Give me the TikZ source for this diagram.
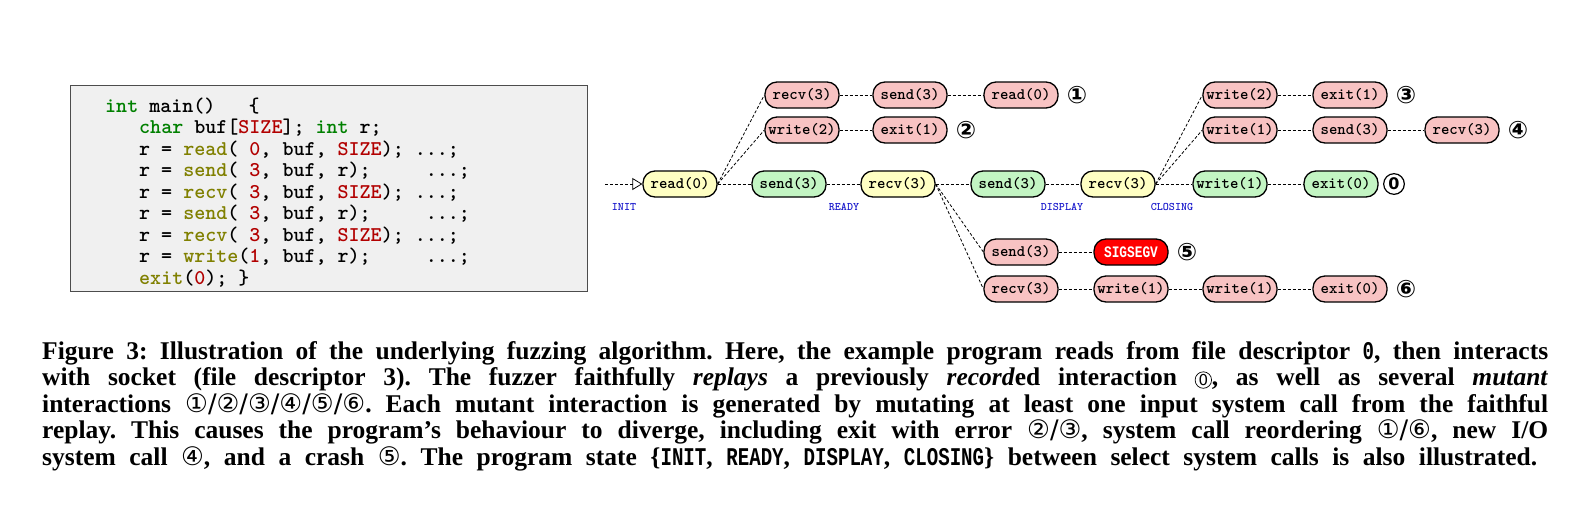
\documentclass[tikz,border=0pt]{standalone}
\usepackage{fontspec}
\setmainfont{Liberation Serif}
\newfontfamily\circfont{DejaVu Sans}
\newfontfamily\capmono{Liberation Mono}[FakeStretch=0.75]
\usetikzlibrary{arrows.meta}
\definecolor{kwg}{rgb}{0,0.5,0}
\definecolor{fno}{rgb}{0.5,0.5,0}
\definecolor{numr}{rgb}{0.7,0,0}
\definecolor{pinkf}{HTML}{F8C3C3}
\definecolor{greenf}{HTML}{C3F5C3}
\definecolor{yellf}{HTML}{FFFFC3}
\definecolor{stblue}{rgb}{0.1,0.1,0.8}
\newcommand{\cA}[1]{{\circfont\mdseries #1}}
\newcommand{\czero}{\tikz[baseline=(z.base)]\node[draw,circle,inner sep=0.6pt,line width=0.7pt,font=\circfont\mdseries\fontsize{15}{15}\selectfont](z){0};}
\newcommand{\kw}[1]{\textcolor{kwg}{#1}}
\newcommand{\fn}[1]{\textcolor{fno}{#1}}
\newcommand{\nm}[1]{\textcolor{numr}{#1}}
\begin{document}
\frenchspacing
\begin{tikzpicture}[x=1pt,y=-1pt,
  call/.style={draw=black,line width=1.3pt,rounded corners=12pt,minimum width=74pt,minimum height=26pt,inner sep=0pt,font=\fontsize{16}{16}\ttfamily\bfseries},
  pk/.style={call,fill=pinkf},
  gr/.style={call,fill=greenf},
  ye/.style={call,fill=yellf},
  rd/.style={call,fill=red,text=white},
  cn/.style={font=\fontsize{24}{24}\circfont\bfseries},
  st/.style={font=\fontsize{11.5}{11.5}\ttfamily\bfseries,text=stblue},
  ln/.style={densely dashed,line width=0.8pt},
  code/.style={anchor=base west,font=\fontsize{21}{21}\ttfamily\bfseries,inner sep=0pt},
  capline/.style={anchor=base west,font=\fontsize{25.5}{25.5}\bfseries,inner sep=0pt}]
\useasboundingbox (0,0) rectangle (1579,509);
% code box
\node[draw=black!70,fill=black!6,line width=1pt,minimum width=517pt,minimum height=206pt,anchor=north west,inner sep=0pt] (box) at (70,85) {};
\node[code] (c1) at (105,112) {\kw{int} main()\ \ \ \{};
\node[code] (c2) at (139,133.5) {\kw{char} buf[\nm{SIZE}]; \kw{int} r;};
\node[code] (c3) at (139,155) {r = \fn{read}( \nm{0}, buf, \nm{SIZE}); ...;};
\node[code] (c4) at (139,176.5) {r = \fn{send}( \nm{3}, buf, r);\ \ \ \ \ ...;};
\node[code] (c5) at (139,198) {r = \fn{recv}( \nm{3}, buf, \nm{SIZE}); ...;};
\node[code] (c6) at (139,219.5) {r = \fn{send}( \nm{3}, buf, r);\ \ \ \ \ ...;};
\node[code] (c7) at (139,241) {r = \fn{recv}( \nm{3}, buf, \nm{SIZE}); ...;};
\node[code] (c8) at (139,262.5) {r = \fn{write}(\nm{1}, buf, r);\ \ \ \ \ ...;};
\node[code] (c9) at (139,284) {\fn{exit}(\nm{0}); \}};
% main row
\coordinate (start) at (605,184);
\node[ye] (m1) at (680,184) {read(0)};
\node[gr] (m2) at (789,184) {send(3)};
\node[ye] (m3) at (898,184) {recv(3)};
\node[gr] (m4) at (1008,184) {send(3)};
\node[ye] (m5) at (1118,184) {recv(3)};
\node[gr] (m6) at (1230,184) {write(1)};
\node[gr] (m7) at (1341,184) {exit(0)};
\node[draw,circle,line width=1.2pt,inner sep=1.5pt,font=\fontsize{16}{16}\circfont\bfseries] (n0) at (1394,184) {0};
\draw[ln,-{Triangle[open,length=10pt,width=12pt]}] (start) -- (m1);
\draw[ln] (m1) -- (m2); \draw[ln] (m2) -- (m3); \draw[ln] (m3) -- (m4);
\draw[ln] (m4) -- (m5); \draw[ln] (m5) -- (m6); \draw[ln] (m6) -- (m7);
\node[st] (sInit) at (624,207) {INIT};
\node[st] (sReady) at (844,207) {READY};
\node[st] (sDisp) at (1062,207) {DISPLAY};
\node[st] (sClos) at (1172,207) {CLOSING};
% branch 1
\node[pk] (a1) at (802,95) {recv(3)};
\node[pk] (a2) at (910,95) {send(3)};
\node[pk] (a3) at (1021,95) {read(0)};
\node[cn] (n1) at (1077,95) {①};
\draw[ln] (m1.east) -- (a1.west); \draw[ln] (a1) -- (a2); \draw[ln] (a2) -- (a3);
% branch 2
\node[pk] (b1) at (802,130) {write(2)};
\node[pk] (b2) at (910,130) {exit(1)};
\node[cn] (n2) at (966,130) {②};
\draw[ln] (m1.east) -- (b1.west); \draw[ln] (b1) -- (b2);
% branch 3
\node[pk] (d1) at (1240,95) {write(2)};
\node[pk] (d2) at (1350,95) {exit(1)};
\node[cn] (n3) at (1406,95) {③};
\draw[ln] (m5.east) -- (d1.west); \draw[ln] (d1) -- (d2);
% branch 4
\node[pk] (e1) at (1240,130) {write(1)};
\node[pk] (e2) at (1350,130) {send(3)};
\node[pk] (e3) at (1462,130) {recv(3)};
\node[cn] (n4) at (1518,130) {④};
\draw[ln] (m5.east) -- (e1.west); \draw[ln] (e1) -- (e2); \draw[ln] (e2) -- (e3);
% branch 5
\node[pk] (f1) at (1021,252) {send(3)};
\node[rd] (f2) at (1131,252) {\fontspec{Liberation Mono}[FakeStretch=0.8]SIGSEGV};
\node[cn] (n5) at (1187,252) {⑤};
\draw[ln] (m3.east) -- (f1.west); \draw[ln] (f1) -- (f2);
% branch 6
\node[pk] (g1) at (1021,289) {recv(3)};
\node[pk] (g2) at (1131,289) {write(1)};
\node[pk] (g3) at (1240,289) {write(1)};
\node[pk] (g4) at (1350,289) {exit(0)};
\node[cn] (n6) at (1406,289) {⑥};
\draw[ln] (m3.east) -- (g1.west); \draw[ln] (g1) -- (g2); \draw[ln] (g2) -- (g3); \draw[ln] (g3) -- (g4);
% caption
\node[capline] (l1) at (42,359) {\makebox[1506pt][s]{Figure 3: Illustration of the underlying fuzzing algorithm. Here, the example program reads from file descriptor {\capmono 0}, then interacts}};
\node[capline] (l2) at (42,385.5) {\makebox[1506pt][s]{with socket (file descriptor 3). The fuzzer faithfully \textit{replays} a previously \textit{record}ed interaction \czero, as well as several \textit{mutant}}};
\node[capline] (l3) at (42,412) {\makebox[1506pt][s]{interactions \cA{①/②/③/④/⑤/⑥}. Each mutant interaction is generated by mutating at least one input system call from the faithful}};
\node[capline] (l4) at (42,438.5) {\makebox[1506pt][s]{replay. This causes the program’s behaviour to diverge, including exit with error \cA{②/③}, system call reordering \cA{①/⑥}, new I/O}};
\node[capline] (l5) at (42,465) {\makebox[1495pt][s]{system call \cA{④}, and a crash \cA{⑤}. The program state \{{\capmono INIT}, {\capmono READY}, {\capmono DISPLAY}, {\capmono CLOSING}\} between select system calls is also illustrated.}};
\end{tikzpicture}
\end{document}
